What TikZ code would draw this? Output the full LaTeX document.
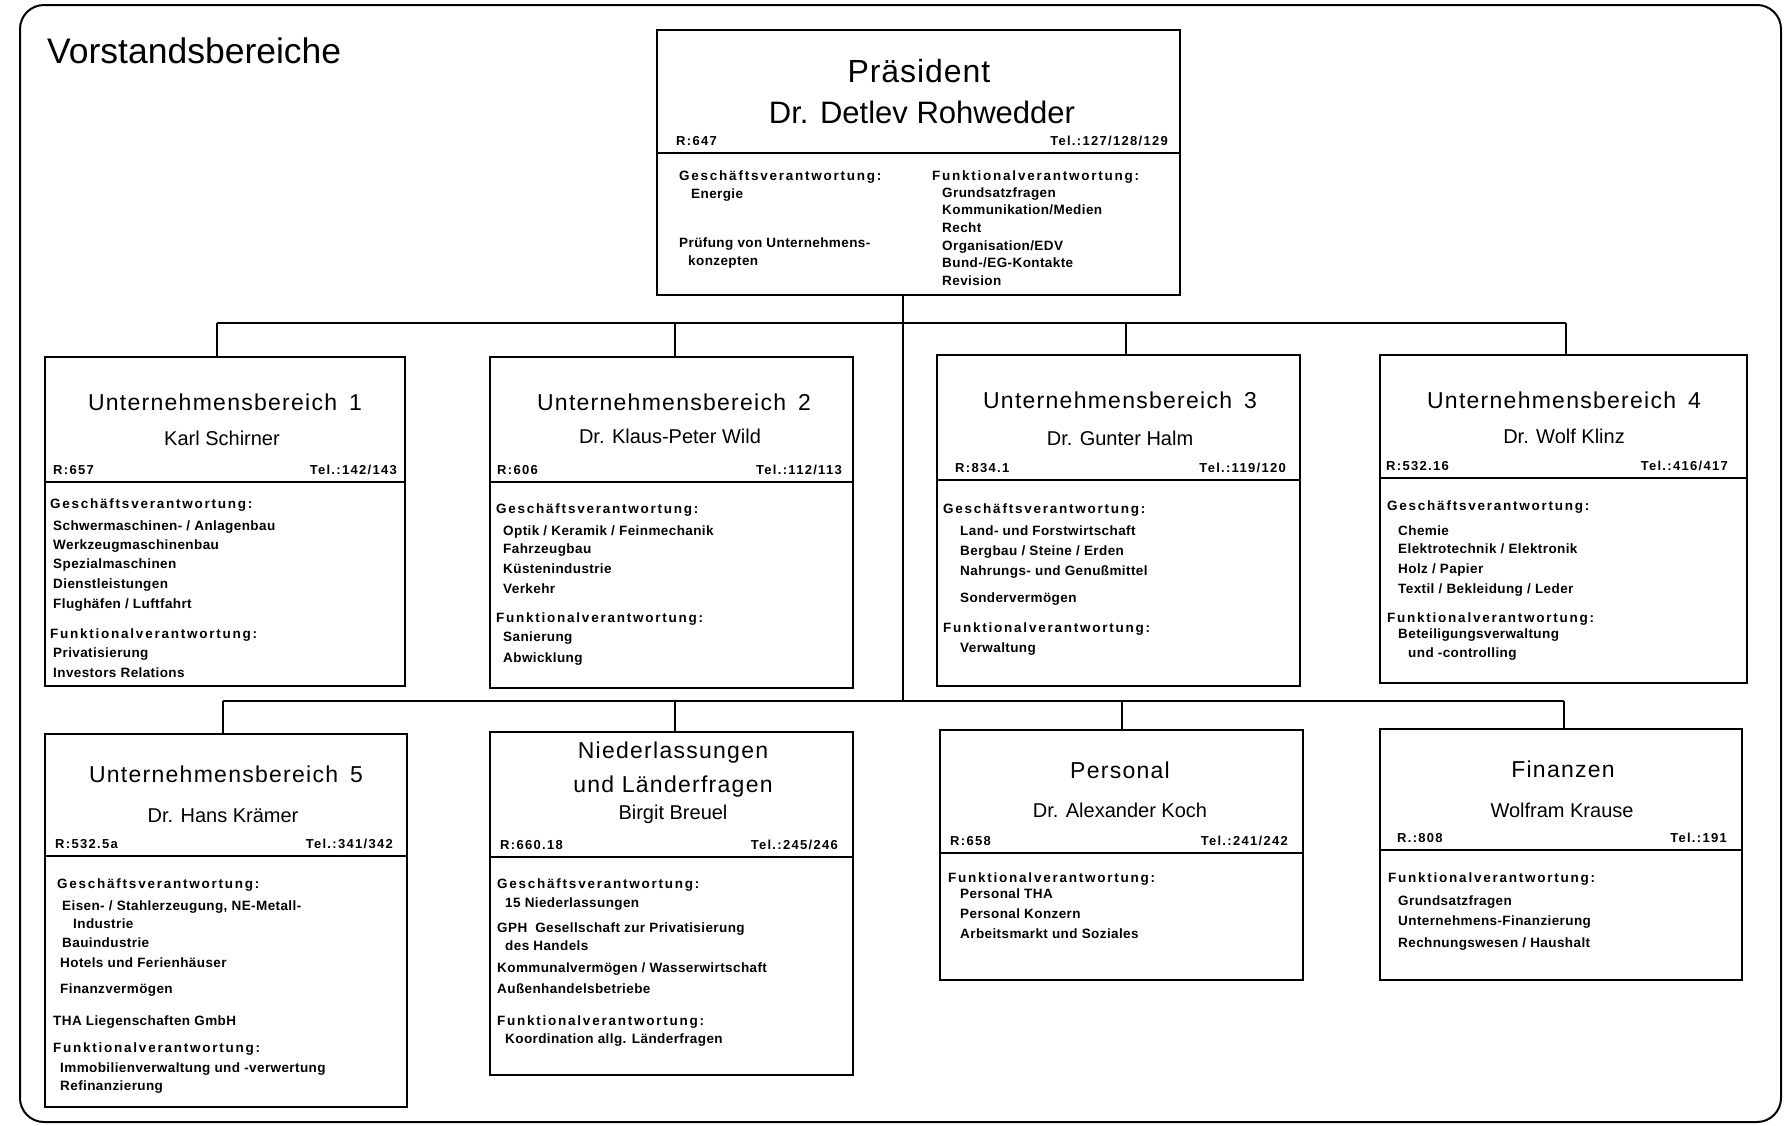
\documentclass[tikz,border=0pt]{standalone}
\usepackage{fontspec}
\setmainfont{Liberation Sans}
\newfontfamily\fnttitle{Liberation Sans}[LetterSpace=5.5]
\newfontfamily\fntpres{Liberation Sans}[LetterSpace=3]
\newfontfamily\fnthead{Liberation Sans}[LetterSpace=13]
\newfontfamily\fntroom{Liberation Sans}[LetterSpace=10]
\newfontfamily\fntitem{Liberation Sans}[LetterSpace=3]

\tikzset{
  hdbox/.style={draw, line width=2.8pt, anchor=north west, inner sep=0pt, outer sep=0pt},
  bdbox/.style={draw, line width=2pt, anchor=north west, inner sep=0pt, outer sep=0pt},
  wire/.style={line width=1.8pt},
  frame/.style={line width=2pt, rounded corners=24pt},
  ttl/.style={anchor=base, inner sep=0pt, font=\fnttitle\fontsize{23}{27}\selectfont},
  nm/.style={anchor=base, inner sep=0pt, font=\fontsize{20}{24}\selectfont},
  room/.style={anchor=base west, inner sep=0pt, font=\fntroom\bfseries\fontsize{13}{15}\selectfont},
  tel/.style={room, anchor=base east},
  hd/.style={anchor=base west, inner sep=0pt, font=\fnthead\bfseries\fontsize{13.5}{16}\selectfont},
  itm/.style={anchor=base west, inner sep=0pt, font=\fntitem\bfseries\fontsize{13.5}{16}\selectfont},
}

\begin{document}
\begin{tikzpicture}[x=1pt,y=-1pt]
\useasboundingbox (0,0) rectangle (1788,1125);
\fill[white] (0,0) rectangle (1788,1125);
\draw[frame] (20,5) rectangle (1781,1122);

\node[anchor=base west, inner sep=0pt, font=\fontsize{35.5}{40}\selectfont] (head) at (47,63) {Vorstandsbereiche};

% ---------------- President ----------------
\node[hdbox, minimum width=523pt, minimum height=123pt] (presH) at (657,30) {};
\node[bdbox, minimum width=523pt, minimum height=142pt] (presB) at (657,153) {};
\node[anchor=base, inner sep=0pt, font=\fntpres\fontsize{32}{36}\selectfont] (presT1) at (919,82) {Präsident};
\node[anchor=base, inner sep=0pt, font=\fontsize{31}{35}\selectfont] (presT2) at (922,123) {Dr. Detlev Rohwedder};
\node[room] (presR) at (676,145) {R:647};
\node[tel] (presTel) at (1168,145) {Tel.:127/128/129};
\node[hd]  (presh1) at (679,180) {Geschäftsverantwortung:};
\node[itm] (presi1) at (691,198) {Energie};
\node[itm] (presi2) at (679,247) {Prüfung von Unternehmens-};
\node[itm] (presi3) at (688,265) {konzepten};
\node[hd]  (presh2) at (932,180) {Funktionalverantwortung:};
\node[itm] (presi4) at (942,197) {Grundsatzfragen};
\node[itm] (presi5) at (942,214) {Kommunikation/Medien};
\node[itm] (presi6) at (942,232) {Recht};
\node[itm] (presi7) at (942,250) {Organisation/EDV};
\node[itm] (presi8) at (942,267) {Bund-/EG-Kontakte};
\node[itm] (presi9) at (942,285) {Revision};

% ---------------- Row 1 ----------------
% Unternehmensbereich 1
\node[hdbox, minimum width=360pt, minimum height=125pt] (b1H) at (45,357) {};
\node[bdbox, minimum width=360pt, minimum height=204pt] (b1B) at (45,482) {};
\node[ttl] (b1t) at (225,410) {Unternehmensbereich\hspace{12pt}1};
\node[nm]  (b1n) at (222,445) {Karl Schirner};
\node[room] (b1r) at (53,474) {R:657};
\node[tel] (b1tel) at (397,474) {Tel.:142/143};
\node[hd]  (b1h1) at (50,508) {Geschäftsverantwortung:};
\node[itm] (b1i1) at (53,530) {Schwermaschinen- / Anlagenbau};
\node[itm] (b1i2) at (53,549) {Werkzeugmaschinenbau};
\node[itm] (b1i3) at (53,568) {Spezialmaschinen};
\node[itm] (b1i4) at (53,588) {Dienstleistungen};
\node[itm] (b1i5) at (53,608) {Flughäfen / Luftfahrt};
\node[hd]  (b1h2) at (50,638) {Funktionalverantwortung:};
\node[itm] (b1i6) at (53,657) {Privatisierung};
\node[itm] (b1i7) at (53,677) {Investors Relations};

% Unternehmensbereich 2
\node[hdbox, minimum width=363pt, minimum height=125pt] (b2H) at (490,357) {};
\node[bdbox, minimum width=363pt, minimum height=206pt] (b2B) at (490,482) {};
\node[ttl] (b2t) at (674,410) {Unternehmensbereich\hspace{12pt}2};
\node[nm]  (b2n) at (670,443) {Dr. Klaus-Peter Wild};
\node[room] (b2r) at (497,474) {R:606};
\node[tel] (b2tel) at (842,474) {Tel.:112/113};
\node[hd]  (b2h1) at (496,513) {Geschäftsverantwortung:};
\node[itm] (b2i1) at (503,535) {Optik / Keramik / Feinmechanik};
\node[itm] (b2i2) at (503,553) {Fahrzeugbau};
\node[itm] (b2i3) at (503,573) {Küstenindustrie};
\node[itm] (b2i4) at (503,593) {Verkehr};
\node[hd]  (b2h2) at (496,622) {Funktionalverantwortung:};
\node[itm] (b2i5) at (503,641) {Sanierung};
\node[itm] (b2i6) at (503,662) {Abwicklung};

% Unternehmensbereich 3
\node[hdbox, minimum width=363pt, minimum height=125pt] (b3H) at (937,355) {};
\node[bdbox, minimum width=363pt, minimum height=206pt] (b3B) at (937,480) {};
\node[ttl] (b3t) at (1120,408) {Unternehmensbereich\hspace{12pt}3};
\node[nm]  (b3n) at (1120,445) {Dr. Gunter Halm};
\node[room] (b3r) at (955,472) {R:834.1};
\node[tel] (b3tel) at (1286,472) {Tel.:119/120};
\node[hd]  (b3h1) at (943,513) {Geschäftsverantwortung:};
\node[itm] (b3i1) at (960,535) {Land- und Forstwirtschaft};
\node[itm] (b3i2) at (960,555) {Bergbau / Steine / Erden};
\node[itm] (b3i3) at (960,575) {Nahrungs- und Genußmittel};
\node[itm] (b3i4) at (960,602) {Sondervermögen};
\node[hd]  (b3h2) at (943,632) {Funktionalverantwortung:};
\node[itm] (b3i5) at (960,652) {Verwaltung};

% Unternehmensbereich 4
\node[hdbox, minimum width=367pt, minimum height=123pt] (b4H) at (1380,355) {};
\node[bdbox, minimum width=367pt, minimum height=205pt] (b4B) at (1380,478) {};
\node[ttl] (b4t) at (1564,408) {Unternehmensbereich\hspace{12pt}4};
\node[nm]  (b4n) at (1564,443) {Dr. Wolf Klinz};
\node[room] (b4r) at (1386,470) {R:532.16};
\node[tel] (b4tel) at (1728,470) {Tel.:416/417};
\node[hd]  (b4h1) at (1387,510) {Geschäftsverantwortung:};
\node[itm] (b4i1) at (1398,535) {Chemie};
\node[itm] (b4i2) at (1398,553) {Elektrotechnik / Elektronik};
\node[itm] (b4i3) at (1398,573) {Holz / Papier};
\node[itm] (b4i4) at (1398,593) {Textil / Bekleidung / Leder};
\node[hd]  (b4h2) at (1387,622) {Funktionalverantwortung:};
\node[itm] (b4i5) at (1398,638) {Beteiligungsverwaltung};
\node[itm] (b4i6) at (1408,657) {und -controlling};

% ---------------- Row 2 ----------------
% Unternehmensbereich 5
\node[hdbox, minimum width=362pt, minimum height=122pt] (b5H) at (45,734) {};
\node[bdbox, minimum width=362pt, minimum height=251pt] (b5B) at (45,856) {};
\node[ttl] (b5t) at (226,782) {Unternehmensbereich\hspace{12pt}5};
\node[nm]  (b5n) at (223,822) {Dr. Hans Krämer};
\node[room] (b5r) at (55,848) {R:532.5a};
\node[tel] (b5tel) at (393,848) {Tel.:341/342};
\node[hd]  (b5h1) at (57,888) {Geschäftsverantwortung:};
\node[itm] (b5i1) at (62,910) {Eisen- / Stahlerzeugung, NE-Metall-};
\node[itm] (b5i2) at (73,928) {Industrie};
\node[itm] (b5i3) at (62,947) {Bauindustrie};
\node[itm] (b5i4) at (60,967) {Hotels und Ferienhäuser};
\node[itm] (b5i5) at (60,993) {Finanzvermögen};
\node[itm] (b5i6) at (53,1025) {THA Liegenschaften GmbH};
\node[hd]  (b5h2) at (53,1052) {Funktionalverantwortung:};
\node[itm] (b5i7) at (60,1072) {Immobilienverwaltung und -verwertung};
\node[itm] (b5i8) at (60,1090) {Refinanzierung};

% Niederlassungen und Länderfragen
\node[hdbox, minimum width=363pt, minimum height=125pt] (b6H) at (490,732) {};
\node[bdbox, minimum width=363pt, minimum height=218pt] (b6B) at (490,857) {};
\node[ttl] (b6t1) at (673,758) {Niederlassungen};
\node[ttl] (b6t2) at (673,792) {und Länderfragen};
\node[nm]  (b6n) at (673,819) {Birgit Breuel};
\node[room] (b6r) at (500,849) {R:660.18};
\node[tel] (b6tel) at (838,849) {Tel.:245/246};
\node[hd]  (b6h1) at (497,888) {Geschäftsverantwortung:};
\node[itm] (b6i1) at (505,907) {15 Niederlassungen};
\node[itm] (b6i2) at (497,932) {GPH\hspace{8pt}Gesellschaft zur Privatisierung};
\node[itm] (b6i3) at (505,950) {des Handels};
\node[itm] (b6i4) at (497,972) {Kommunalvermögen / Wasserwirtschaft};
\node[itm] (b6i5) at (497,993) {Außenhandelsbetriebe};
\node[hd]  (b6h2) at (497,1025) {Funktionalverantwortung:};
\node[itm] (b6i6) at (505,1043) {Koordination allg. Länderfragen};

% Personal
\node[hdbox, minimum width=363pt, minimum height=123pt] (b7H) at (940,730) {};
\node[bdbox, minimum width=363pt, minimum height=127pt] (b7B) at (940,853) {};
\node[ttl] (b7t) at (1120,778) {Personal};
\node[nm]  (b7n) at (1120,817) {Dr. Alexander Koch};
\node[room] (b7r) at (950,845) {R:658};
\node[tel] (b7tel) at (1288,845) {Tel.:241/242};
\node[hd]  (b7h1) at (948,882) {Funktionalverantwortung:};
\node[itm] (b7i1) at (960,898) {Personal THA};
\node[itm] (b7i2) at (960,918) {Personal Konzern};
\node[itm] (b7i3) at (960,938) {Arbeitsmarkt und Soziales};

% Finanzen
\node[hdbox, minimum width=362pt, minimum height=121pt] (b8H) at (1380,729) {};
\node[bdbox, minimum width=362pt, minimum height=130pt] (b8B) at (1380,850) {};
\node[ttl] (b8t) at (1563,777) {Finanzen};
\node[nm]  (b8n) at (1562,817) {Wolfram Krause};
\node[room] (b8r) at (1397,842) {R.:808};
\node[tel] (b8tel) at (1727,842) {Tel.:191};
\node[hd]  (b8h1) at (1388,882) {Funktionalverantwortung:};
\node[itm] (b8i1) at (1398,905) {Grundsatzfragen};
\node[itm] (b8i2) at (1398,925) {Unternehmens-Finanzierung};
\node[itm] (b8i3) at (1398,947) {Rechnungswesen / Haushalt};

% ---------------- Connectors ----------------
\coordinate (j1) at (903,323);
\coordinate (j2) at (903,701);
\coordinate (d1) at (217,323);
\coordinate (d2) at (675,323);
\coordinate (d3) at (1126,323);
\coordinate (d4) at (1566,323);
\coordinate (e1) at (223,701);
\coordinate (e2) at (675,701);
\coordinate (e3) at (1122,701);
\coordinate (e4) at (1564,701);

\draw[wire] (presB.south -| j1) -- (j2);
\draw[wire] (d1) -- (d4);
\draw[wire] (e1) -- (e4);
\draw[wire] (d1) -- (d1 |- b1H.north);
\draw[wire] (d2) -- (d2 |- b2H.north);
\draw[wire] (d3) -- (d3 |- b3H.north);
\draw[wire] (d4) -- (d4 |- b4H.north);
\draw[wire] (e1) -- (e1 |- b5H.north);
\draw[wire] (e2) -- (e2 |- b6H.north);
\draw[wire] (e3) -- (e3 |- b7H.north);
\draw[wire] (e4) -- (e4 |- b8H.north);
\end{tikzpicture}
\end{document}
